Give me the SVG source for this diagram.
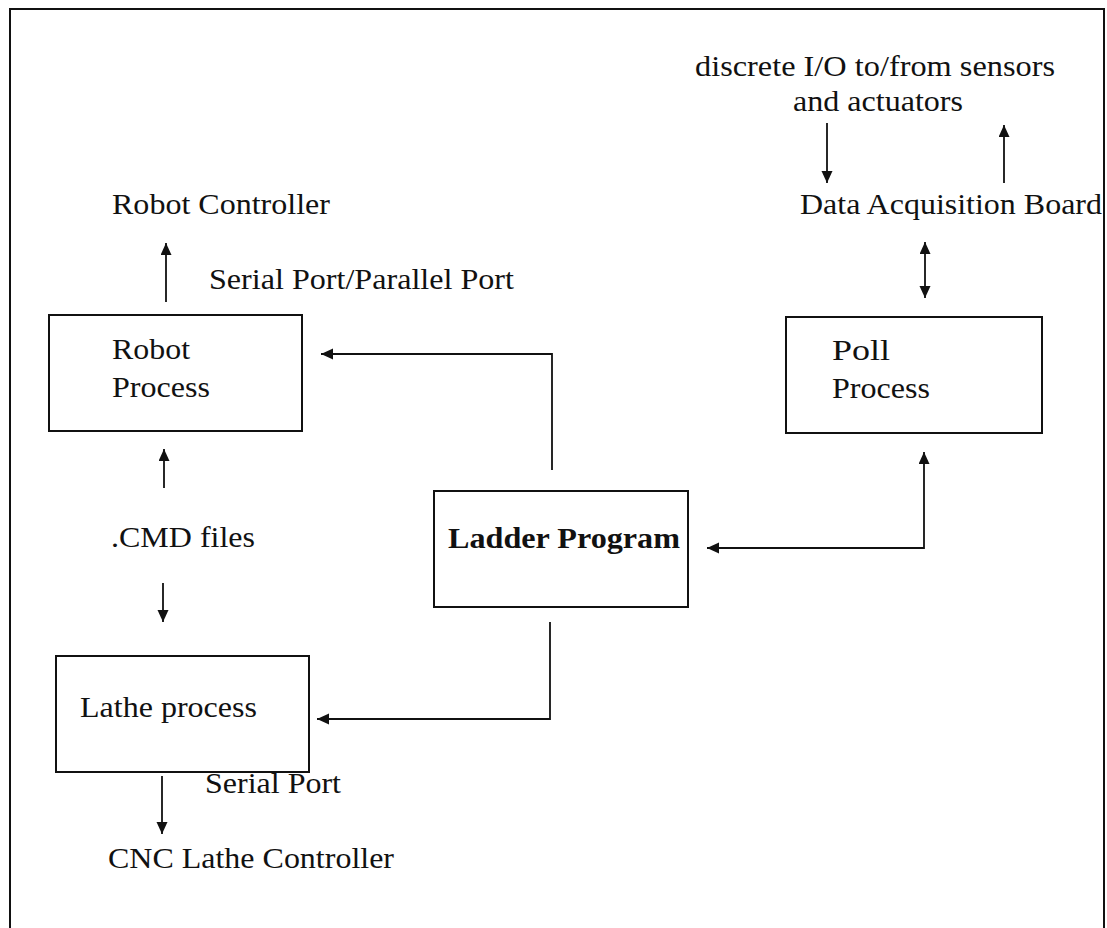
<svg xmlns="http://www.w3.org/2000/svg" width="1107" height="928" viewBox="0 0 1107 928">
  <style>
    .frame { fill: none; stroke: #111; stroke-width: 2; }
    .box { fill: #fff; stroke: #111; stroke-width: 2; }
    .wire { fill: none; stroke: #111; stroke-width: 1.8; }
    .lbl { font-family: "Liberation Serif", "Times New Roman", serif; font-size: 29px; fill: #111; }
    .bold { font-weight: bold; }
  </style>
  <defs>
    <marker id="head" markerUnits="userSpaceOnUse" markerWidth="13" markerHeight="12" refX="12" refY="5.5" orient="auto-start-reverse">
      <path d="M0,0 L12,5.5 L0,11 z" fill="#111"/>
    </marker>
  </defs>

  <rect width="1107" height="928" fill="#fff"/>
  <!-- outer frame, open at the bottom edge of the page -->
  <rect class="frame" x="10" y="9" width="1094" height="940"/>

  <g id="connectors">
    <line class="wire" x1="166" y1="302" x2="166" y2="243" marker-end="url(#head)"/>
    <line class="wire" x1="164" y1="488" x2="164" y2="449" marker-end="url(#head)"/>
    <line class="wire" x1="163" y1="583" x2="163" y2="622" marker-end="url(#head)"/>
    <line class="wire" x1="162" y1="776" x2="162" y2="834" marker-end="url(#head)"/>
    <path class="wire" d="M552,470 V354 H321" marker-end="url(#head)"/>
    <path class="wire" d="M550,622 V719 H317" marker-end="url(#head)"/>
    <path class="wire" d="M707,548 H924 V452" marker-start="url(#head)" marker-end="url(#head)"/>
    <line class="wire" x1="925" y1="242" x2="925" y2="298" marker-start="url(#head)" marker-end="url(#head)"/>
    <line class="wire" x1="827" y1="123" x2="827" y2="183" marker-end="url(#head)"/>
    <line class="wire" x1="1004" y1="183" x2="1004" y2="125" marker-end="url(#head)"/>
  </g>

  <g id="robot-process">
    <rect class="box" x="49" y="315" width="253" height="116"/>
    <text class="lbl" x="112" y="359" textLength="78" lengthAdjust="spacingAndGlyphs">Robot</text>
    <text class="lbl" x="112" y="397" textLength="98" lengthAdjust="spacingAndGlyphs">Process</text>
  </g>

  <g id="poll-process">
    <rect class="box" x="786" y="317" width="256" height="116"/>
    <text class="lbl" x="832" y="360" textLength="58" lengthAdjust="spacingAndGlyphs">Poll</text>
    <text class="lbl" x="832" y="398" textLength="98" lengthAdjust="spacingAndGlyphs">Process</text>
  </g>

  <g id="ladder-program">
    <rect class="box" x="434" y="491" width="254" height="116"/>
    <text class="lbl bold" x="448" y="548" textLength="232" lengthAdjust="spacingAndGlyphs">Ladder Program</text>
  </g>

  <g id="lathe-process">
    <rect class="box" x="56" y="656" width="253" height="116"/>
    <text class="lbl" x="80" y="717" textLength="177" lengthAdjust="spacingAndGlyphs">Lathe process</text>
  </g>

  <g id="robot-controller">
    <text class="lbl" x="112" y="214" textLength="218" lengthAdjust="spacingAndGlyphs">Robot Controller</text>
  </g>

  <g id="data-acquisition-board">
    <text class="lbl" x="800" y="214" textLength="302" lengthAdjust="spacingAndGlyphs">Data Acquisition Board</text>
  </g>

  <g id="sensors-actuators">
    <text class="lbl" x="695" y="76" textLength="360" lengthAdjust="spacingAndGlyphs">discrete I/O to/from sensors</text>
    <text class="lbl" x="793" y="111" textLength="170" lengthAdjust="spacingAndGlyphs">and actuators</text>
  </g>

  <g id="cnc-lathe-controller">
    <text class="lbl" x="108" y="868" textLength="286" lengthAdjust="spacingAndGlyphs">CNC Lathe Controller</text>
  </g>

  <g id="link-labels">
    <text class="lbl" x="209" y="289" textLength="305" lengthAdjust="spacingAndGlyphs">Serial Port/Parallel Port</text>
    <text class="lbl" x="111" y="547" textLength="144" lengthAdjust="spacingAndGlyphs">.CMD files</text>
    <text class="lbl" x="205" y="793" textLength="136" lengthAdjust="spacingAndGlyphs">Serial Port</text>
  </g>
</svg>
